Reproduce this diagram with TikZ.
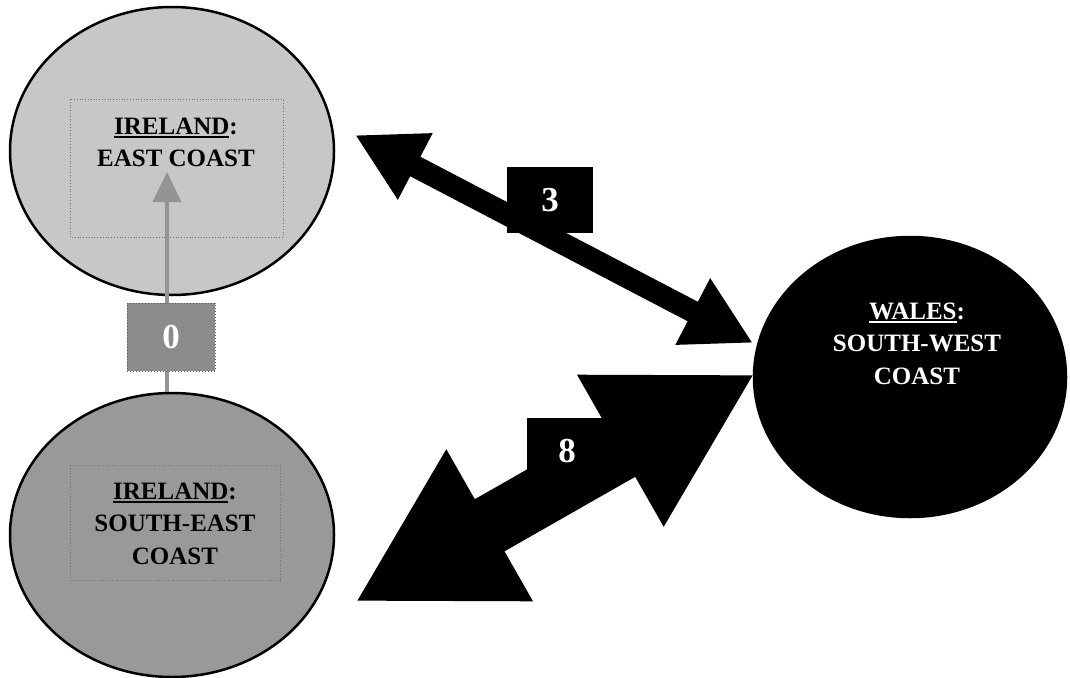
\documentclass[tikz,border=0pt]{standalone}
\usepackage{fontspec}
\setmainfont{Liberation Serif}
\usetikzlibrary{arrows.meta,shapes.geometric}
\newcommand\myul[2][black]{\setbox0\hbox{#2}\rlap{\color{#1}\rule[-4pt]{\wd0}{2.5pt}}\box0}
\begin{document}
\begin{tikzpicture}[x=1pt,y=-1pt,
  region/.style={ellipse, draw=black, line width=2.5pt, inner sep=0pt},
  place/.style={font=\bfseries\fontsize{25}{32.5}\selectfont, align=center, inner sep=0pt},
  guide/.style={draw=black!55, dotted, line width=0.8pt},
  numbox/.style={inner sep=0pt, font=\bfseries\fontsize{35}{35}\selectfont, text=white},
  boldlink/.style={line width=22pt, {Triangle[length=68pt,width=70pt]}-{Triangle[length=68pt,width=70pt]}},
  hugelink/.style={line width=60pt, {Triangle[length=155pt,width=163pt]}-{Triangle[length=155pt,width=163pt]}},
  greylink/.style={draw=black!42, line width=4pt, -{Triangle[length=30pt,width=28pt]}}
]
\useasboundingbox (0,0) rectangle (1070,677);
% regions
\node[region, fill=black!22, minimum width=324pt, minimum height=288pt] (ie) at (172,151) {};
\node[region, fill=black!40, minimum width=324pt, minimum height=284pt] (ise) at (172,535) {};
\node[region, fill=black, minimum width=312pt, minimum height=280pt] (wa) at (910,377) {};
% dotted text frames
\draw[guide] (70,99) rectangle (283,237);
\draw[guide] (70,465) rectangle (280,580);
% labels
\node[place] (ieT) at (176,142.5) {\myul{IRELAND}:\\EAST COAST};
\node[place] (iseT) at (175,523.5) {\myul{IRELAND}:\\SOUTH-EAST\\COAST};
\node[place, text=white] (waT) at (917,343.5) {\myul[white]{WALES}:\\SOUTH-WEST\\COAST};
% connectors
\coordinate (t3a) at (355,135);
\coordinate (t3b) at (753,343);
\coordinate (t8a) at (355,602);
\coordinate (t8b) at (755,374);
\coordinate (gtip) at (167,172);
\draw[boldlink] (t3a) -- (t3b);
\draw[hugelink] (t8a) -- (t8b);
\draw[greylink] ([xshift=-5pt]ise.north) -- (gtip);
% weight boxes
\node[numbox, fill=black, minimum width=86pt, minimum height=66pt] (w3) at (550,200) {3};
\node[numbox, fill=black, minimum width=81pt, minimum height=66pt] (w8) at (567,451) {8};
\node[numbox, fill=black!45, draw=black!65, dotted, line width=1pt, minimum width=88pt, minimum height=68pt] (w0) at (171,337) {0};
\end{tikzpicture}
\end{document}
